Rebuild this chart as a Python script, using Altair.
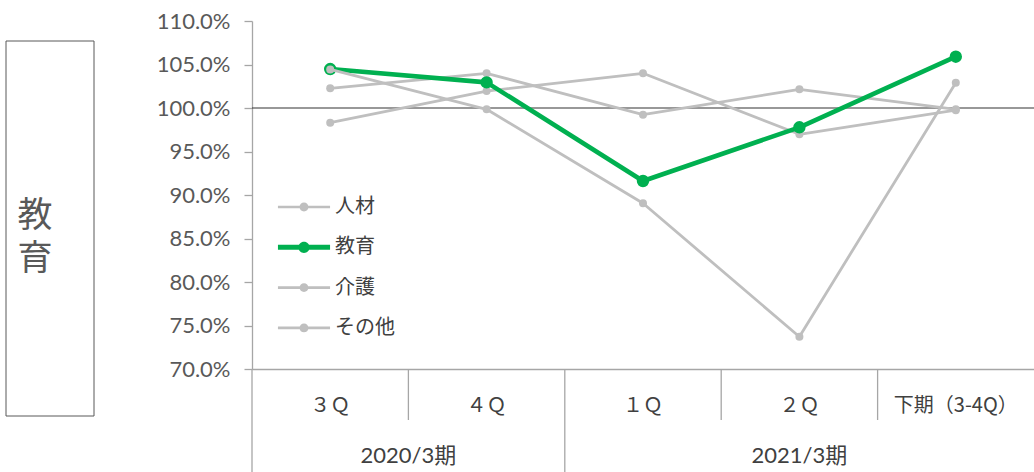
import altair as alt
import pandas as pd

# ---------------- data ----------------
categories = ["３Ｑ", "４Ｑ", "１Ｑ", "２Ｑ", "下期（3-4Q）"]
series_names = ["人材", "教育", "介護", "その他"]
jinzai = [1.0226, 1.0399, 0.9923, 1.0215, 0.9985]
kyoiku = [1.0448, 1.0295, 0.9161, 0.9778, 1.0590]
kaigo = [0.9831, 1.0195, 1.0399, 0.9698, 0.9975]
sonota = [1.0443, 0.9985, 0.8905, 0.7371, 1.0291]
years = ["2020/3期", "2021/3期"]
year_spans = [["３Ｑ", "４Ｑ"], ["１Ｑ", "２Ｑ", "下期（3-4Q）"]]
y_ticks = [0.70, 0.75, 0.80, 0.85, 0.90, 0.95, 1.00, 1.05, 1.10]
reference_level = [1.0]
panel_title = "教育"

values = {"人材": jinzai, "教育": kyoiku, "介護": kaigo, "その他": sonota}
rows = []
for s in series_names:
    for c, v in zip(categories, values[s]):
        rows.append({"cat": c, "series": s, "value": v})
df = pd.DataFrame(rows)

GRAY = "#BFBFBF"
GREEN = "#00B050"
AXIS_GRAY = "#A6A6A6"
TEXT = "#404040"
CJK = "Noto Sans CJK JP"
LAT = "Lato, 'Noto Sans CJK JP'"

W, H = 782, 348

x_scale = alt.Scale(type="band", domain=categories, paddingInner=0, paddingOuter=0)
x_axis = alt.Axis(
    title=None, labelAngle=0, domainColor=AXIS_GRAY, domainWidth=1.3,
    ticks=False, tickSize=0,
    labelFont=CJK, labelFontSize=20, labelColor=TEXT, labelBaseline="middle",
    labelPadding=36, labelOverlap=False, labelBound=False, labelFlush=False,
)
y_scale = alt.Scale(domain=[0.70, 1.10], nice=False, zero=False)
y_axis = alt.Axis(
    title=None, values=y_ticks, format=".1%", grid=False,
    domainColor=AXIS_GRAY, domainWidth=1.3, tickColor=AXIS_GRAY, tickWidth=1.3,
    tickSize=8, labelFont="Lato", labelFontSize=22, labelColor="#595959",
    labelPadding=14,
)

X = alt.X("cat:N", sort=categories, scale=x_scale, axis=x_axis)
Y = alt.Y("value:Q", scale=y_scale, axis=y_axis)

# reference line at 100%
ref = alt.Chart(pd.DataFrame({"value": reference_level})).mark_rule(
    color="#333333", strokeWidth=1.1
).encode(y=Y)


def series_layer(name, color, width, psize):
    return alt.Chart(df).transform_filter(alt.datum.series == name).mark_line(
        color=color, strokeWidth=width, strokeJoin="round", strokeCap="round",
        point=alt.OverlayMarkDef(filled=True, color=color, size=psize, opacity=1),
    ).encode(x=X, y=Y)


l_jinzai = series_layer("人材", GRAY, 2.8, 64)
l_kaigo = series_layer("介護", GRAY, 2.8, 64)
l_kyoiku = series_layer("教育", GREEN, 4.6, 154)
l_sonota = series_layer("その他", GRAY, 2.8, 64)

# legend (custom line+marker symbols)
gray_path = ("M-1.93,-0.1L1.93,-0.1L1.93,0.1L-1.93,0.1Z "
             "M0.33,0A0.33,0.33,0,1,1,-0.33,0A0.33,0.33,0,1,1,0.33,0Z")
green_path = ("M-1.93,-0.18L1.93,-0.18L1.93,0.18L-1.93,0.18Z "
              "M0.42,0A0.42,0.42,0,1,1,-0.42,0A0.42,0.42,0,1,1,0.42,0Z")
legend_spec = dict(
    title=None, orient="none", legendX=38.5, legendY=172.5, padding=0,
    rowPadding=16.3, labelOffset=17.5, labelFont=CJK, labelFontSize=20,
    labelColor=TEXT, symbolSize=729, symbolOpacity=1, symbolStrokeWidth=0,
)
legend_layer = alt.Chart(df).mark_point(filled=True, opacity=0, size=729).encode(
    x=X, y=Y,
    color=alt.Color("series:N", scale=alt.Scale(domain=series_names,
                    range=[GRAY, GREEN, GRAY, GRAY]),
                    legend=alt.Legend(**legend_spec)),
    shape=alt.Shape("series:N", scale=alt.Scale(domain=series_names,
                    range=[gray_path, green_path, gray_path, gray_path]),
                    legend=alt.Legend(**legend_spec)),
)

# separators: short ones between quarters, long ones at fiscal-year starts
year_start_cats = [span[0] for span in year_spans]
quarter_seps = pd.DataFrame({"cat": [c for c in categories if c not in year_start_cats]})
year_seps = pd.DataFrame({"cat": year_start_cats})
X0 = alt.X("cat:N", sort=categories, scale=x_scale, axis=x_axis, bandPosition=0)
sep_q = alt.Chart(quarter_seps).mark_rule(color=AXIS_GRAY, strokeWidth=1.3).encode(
    x=X0, y=alt.value(H), y2=alt.value(H + 51),
)
sep_y = alt.Chart(year_seps).mark_rule(color=AXIS_GRAY, strokeWidth=1.3).encode(
    x=X0, y=alt.value(H), y2=alt.value(H + 103),
)

# year labels centred under their quarters
year_layers = []
for yname, span in zip(years, year_spans):
    n = len(span)
    if n % 2 == 0:
        anchor, band = span[n // 2], 0
    else:
        anchor, band = span[n // 2], 0.5
    year_layers.append(
        alt.Chart(pd.DataFrame({"cat": [anchor], "year": [yname]})).mark_text(
            font=LAT, fontSize=22, color=TEXT, baseline="middle", align="center"
        ).encode(
            x=alt.X("cat:N", sort=categories, scale=x_scale, axis=x_axis, bandPosition=band),
            y=alt.value(H + 87),
            text="year:N",
        )
    )

# left title box with vertically stacked characters
box = alt.Chart(pd.DataFrame({"t": [panel_title]})).mark_rect(
    fillOpacity=0, stroke="#595959", strokeWidth=1
).encode(x=alt.value(-246), x2=alt.value(-158), y=alt.value(20), y2=alt.value(395))
char_layers = []
for i, ch in enumerate(panel_title):
    char_layers.append(
        alt.Chart(pd.DataFrame({"t": [ch]})).mark_text(
            font=CJK, fontSize=35, color="#595959", align="center", baseline="middle",
        ).encode(x=alt.value(-217), y=alt.value(195 + 43 * i), text="t:N")
    )

chart = alt.layer(
    ref, l_jinzai, l_kaigo, l_kyoiku, l_sonota, legend_layer, sep_q, sep_y,
    *year_layers, box, *char_layers,
).properties(
    width=W, height=H,
    autosize=alt.AutoSizeParams(type="none"),
    padding={"left": 252, "top": 21, "right": 0, "bottom": 103},
    background="white",
).configure_view(stroke=None)

chart.save("out.html", embed_options={"renderer": "svg", "actions": False})
